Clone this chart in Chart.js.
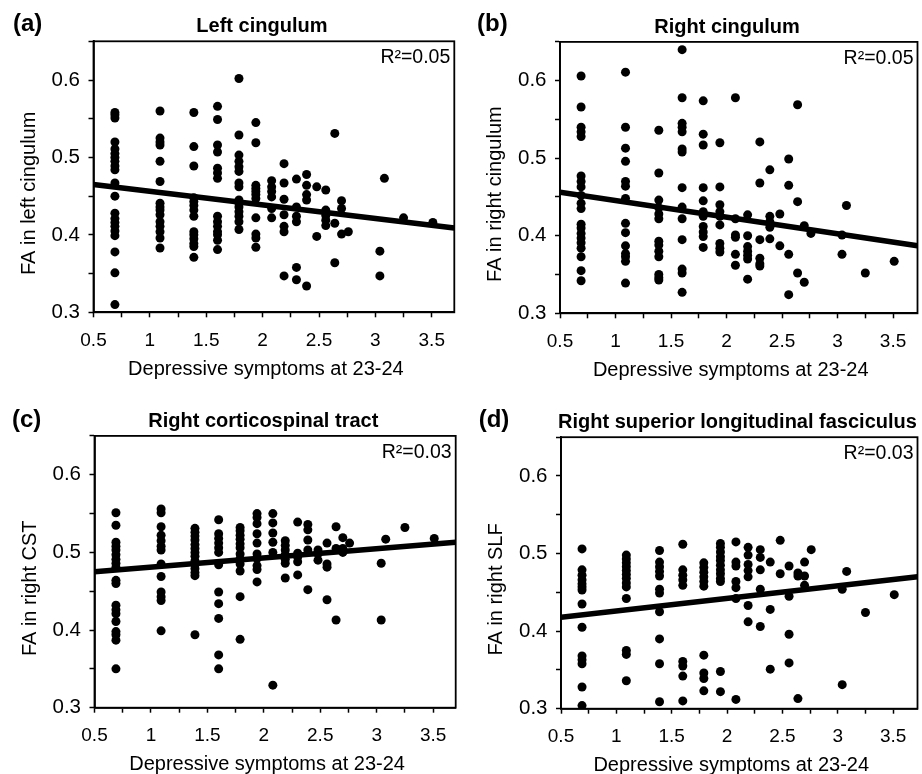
<!DOCTYPE html>
<html>
<head>
<meta charset="utf-8">
<script src="https://cdn.jsdelivr.net/npm/chart.js@4.4.1/dist/chart.umd.min.js"></script>
<style>
html, body { margin: 0; padding: 0; background: #fff; }
#wrap { position: relative; width: 922px; height: 774px; overflow: hidden; background: #fff; }
#wrap canvas { position: absolute; left: 0; top: 0; }
</style>
</head>
<body>
<div id="wrap">
  <canvas id="c0" width="922" height="774"></canvas>
  <canvas id="c1" width="922" height="774"></canvas>
  <canvas id="c2" width="922" height="774"></canvas>
  <canvas id="c3" width="922" height="774"></canvas>
</div>
<script>
// ---- data ----
const symptomLevels = [0.69, 1.09, 1.39, 1.60, 1.79, 1.94, 2.08, 2.19, 2.30, 2.39, 2.48, 2.56, 2.64, 2.70, 2.76, 3.04, 3.08, 3.25, 3.51];

const leftCingulumFA = [
  [0.558, 0.555, 0.551, 0.520, 0.511, 0.505, 0.500, 0.495, 0.489, 0.484, 0.467, 0.450, 0.428, 0.421, 0.416, 0.411, 0.405, 0.399, 0.378, 0.351, 0.310],
  [0.560, 0.525, 0.520, 0.516, 0.495, 0.469, 0.441, 0.436, 0.432, 0.426, 0.417, 0.411, 0.404, 0.396, 0.383],
  [0.558, 0.514, 0.489, 0.448, 0.443, 0.438, 0.432, 0.424, 0.404, 0.400, 0.395, 0.389, 0.385, 0.371],
  [0.566, 0.549, 0.516, 0.507, 0.486, 0.480, 0.473, 0.424, 0.417, 0.411, 0.404, 0.400, 0.393, 0.381],
  [0.602, 0.529, 0.503, 0.495, 0.488, 0.482, 0.467, 0.462, 0.445, 0.441, 0.436, 0.430, 0.424, 0.417, 0.407],
  [0.545, 0.519, 0.464, 0.460, 0.456, 0.452, 0.447, 0.422, 0.401, 0.396, 0.384],
  [0.470, 0.462, 0.456, 0.449, 0.434, 0.422],
  [0.492, 0.467, 0.446, 0.426, 0.411, 0.404, 0.347],
  [0.472, 0.436, 0.424, 0.417, 0.358, 0.342],
  [0.478, 0.464, 0.452, 0.445, 0.334],
  [0.462, 0.398],
  [0.458, 0.432, 0.425, 0.419, 0.412],
  [0.531, 0.415, 0.364],
  [0.444, 0.434, 0.401],
  [0.404],
  [0.379, 0.347],
  [0.473],
  [0.422],
  [0.416]
];

const rightCingulumFA = [
  [0.606, 0.566, 0.540, 0.534, 0.528, 0.477, 0.470, 0.463, 0.452, 0.442, 0.435, 0.415, 0.410, 0.403, 0.397, 0.391, 0.384, 0.373, 0.355, 0.342],
  [0.611, 0.540, 0.513, 0.496, 0.470, 0.464, 0.448, 0.416, 0.404, 0.387, 0.377, 0.373, 0.367, 0.339],
  [0.536, 0.481, 0.446, 0.436, 0.428, 0.422, 0.393, 0.388, 0.380, 0.373, 0.350, 0.346, 0.343],
  [0.640, 0.578, 0.545, 0.540, 0.534, 0.512, 0.508, 0.462, 0.437, 0.422, 0.395, 0.357, 0.352, 0.327],
  [0.574, 0.531, 0.517, 0.462, 0.445, 0.431, 0.425, 0.412, 0.405, 0.399, 0.385],
  [0.520, 0.463, 0.440, 0.431, 0.425, 0.414, 0.390, 0.384, 0.379],
  [0.578, 0.422, 0.401, 0.398, 0.376, 0.362],
  [0.427, 0.400, 0.386, 0.380, 0.375, 0.370, 0.344],
  [0.521, 0.468, 0.395, 0.371, 0.364, 0.361],
  [0.485, 0.425, 0.418, 0.411, 0.396],
  [0.428, 0.387],
  [0.499, 0.465, 0.376, 0.324],
  [0.569, 0.444, 0.352],
  [0.413, 0.340],
  [0.403],
  [0.401, 0.376],
  [0.439],
  [0.352],
  [0.367]
];

const rightCstFA = [
  [0.551, 0.535, 0.513, 0.508, 0.503, 0.497, 0.491, 0.486, 0.481, 0.464, 0.460, 0.432, 0.426, 0.421, 0.411, 0.398, 0.394, 0.387, 0.350],
  [0.556, 0.551, 0.533, 0.522, 0.515, 0.508, 0.503, 0.485, 0.469, 0.449, 0.443, 0.438, 0.399],
  [0.531, 0.526, 0.521, 0.516, 0.510, 0.505, 0.500, 0.495, 0.489, 0.484, 0.479, 0.474, 0.470, 0.394],
  [0.542, 0.524, 0.518, 0.512, 0.506, 0.500, 0.484, 0.449, 0.434, 0.415, 0.368, 0.350],
  [0.532, 0.528, 0.522, 0.517, 0.511, 0.506, 0.498, 0.492, 0.485, 0.476, 0.443, 0.388],
  [0.550, 0.545, 0.537, 0.524, 0.512, 0.498, 0.492, 0.483, 0.478, 0.462],
  [0.550, 0.538, 0.525, 0.513, 0.500, 0.329],
  [0.515, 0.509, 0.503, 0.497, 0.491, 0.486, 0.467],
  [0.539, 0.499, 0.494, 0.488, 0.471],
  [0.536, 0.529, 0.516, 0.503, 0.452],
  [0.503, 0.498, 0.490],
  [0.512, 0.485, 0.481, 0.439],
  [0.533, 0.505, 0.413],
  [0.519, 0.505, 0.500],
  [0.512],
  [0.486, 0.413],
  [0.517],
  [0.532],
  [0.518]
];

const rightSlfFA = [
  [0.506, 0.479, 0.472, 0.466, 0.461, 0.457, 0.453, 0.435, 0.405, 0.368, 0.363, 0.358, 0.328, 0.304],
  [0.498, 0.493, 0.488, 0.483, 0.478, 0.473, 0.468, 0.462, 0.457, 0.442, 0.375, 0.370, 0.336],
  [0.504, 0.489, 0.483, 0.477, 0.471, 0.454, 0.449, 0.425, 0.390, 0.358, 0.309],
  [0.512, 0.479, 0.472, 0.466, 0.459, 0.361, 0.355, 0.342, 0.310],
  [0.488, 0.482, 0.476, 0.470, 0.464, 0.458, 0.369, 0.346, 0.339, 0.323],
  [0.513, 0.508, 0.502, 0.496, 0.491, 0.485, 0.479, 0.474, 0.468, 0.464, 0.348, 0.322],
  [0.515, 0.489, 0.484, 0.464, 0.456, 0.442, 0.312],
  [0.508, 0.498, 0.486, 0.478, 0.470, 0.433, 0.412],
  [0.505, 0.495, 0.479, 0.454, 0.406],
  [0.489, 0.428, 0.351],
  [0.517, 0.474],
  [0.484, 0.445, 0.396, 0.359],
  [0.475, 0.471, 0.313],
  [0.489, 0.471, 0.459],
  [0.505],
  [0.454, 0.331],
  [0.477],
  [0.424],
  [0.447]
];

// regression line: FA at the left edge (x = 0.5) and at the right edge of the axis
const fitLineLeft  = [0.465, 0.456, 0.475, 0.418];
const fitLineRight = [0.409, 0.387, 0.513, 0.470];

const panelLabels = ['(a)', '(b)', '(c)', '(d)'];
const panelTitles = ['Left cingulum', 'Right cingulum', 'Right corticospinal tract', 'Right superior longitudinal fasciculus'];
const yAxisTitles = ['FA in left cingulum', 'FA in right cingulum', 'FA in right CST', 'FA in right SLF'];
const xAxisTitle = 'Depressive symptoms at 23-24';
const r2Labels = ['R\u00B2=0.05', 'R\u00B2=0.05', 'R\u00B2=0.03', 'R\u00B2=0.03'];

const xTickValues = [0.5, 1, 1.5, 2, 2.5, 3, 3.5];
const xTickLabels = ['0.5', '1', '1.5', '2', '2.5', '3', '3.5'];
const yTickValues = [0.3, 0.4, 0.5, 0.6];
const yTickLabels = ['0.3', '0.4', '0.5', '0.6'];

const faSeries = [leftCingulumFA, rightCingulumFA, rightCstFA, rightSlfFA];

// ---- layout (page pixel positions of each plot area) ----
const panelBoxes = [
  { L: 93.5, R: 454.3, T: 41.3,  B: 312.3, xMax: 3.70, titleDx: -12,  labelX: 13,    labelY: 31 },
  { L: 560,  R: 921,   T: 41.9,  B: 313.3, xMax: 3.72, titleDx: -11.7, labelX: 477,  labelY: 31 },
  { L: 94.5, R: 455.7, T: 435.9, B: 707.7, xMax: 3.70, titleDx: -11.8, labelX: 12,   labelY: 427 },
  { L: 561,  R: 921.5, T: 437.2, B: 708.7, xMax: 3.72, titleDx: -1.8,  labelX: 478.7, labelY: 427 }
];

const FONT = "'Liberation Sans', Arial, Helvetica, sans-serif";
Chart.defaults.font.family = FONT;
Chart.defaults.color = '#000';

function lookupLabel(value, vals, labels) {
  for (let k = 0; k < vals.length; k++) {
    if (Math.abs(value - vals[k]) < 1e-6) return labels[k];
  }
  return '';
}

const panelDecor = {
  id: 'panelDecor',
  afterDraw(chart, args, opts) {
    const i = opts.index;
    const box = panelBoxes[i];
    const a = chart.chartArea;
    const ctx = chart.ctx;
    const cx = (a.left + a.right) / 2;
    const cy = (a.top + a.bottom) / 2;
    ctx.save();
    ctx.strokeStyle = '#000';
    ctx.lineWidth = 1.8;
    ctx.strokeRect(a.left, a.top, a.right - a.left, a.bottom - a.top);
    ctx.fillStyle = '#000';
    ctx.textBaseline = 'alphabetic';
    ctx.font = 'bold 24px ' + FONT;
    ctx.textAlign = 'left';
    ctx.fillText(panelLabels[i], box.labelX, box.labelY);
    ctx.font = 'bold 20px ' + FONT;
    ctx.textAlign = 'center';
    ctx.fillText(panelTitles[i], cx + box.titleDx, a.top - 9);
    ctx.font = '19.5px ' + FONT;
    ctx.textAlign = 'right';
    ctx.fillText(r2Labels[i], a.right - 4, a.top + 22);
    ctx.font = '20px ' + FONT;
    ctx.textAlign = 'center';
    ctx.fillText(xAxisTitle, cx - 8, a.bottom + 62.5);
    ctx.translate(a.left - 58.7, cy + 16.5);
    ctx.rotate(-Math.PI / 2);
    ctx.fillText(yAxisTitles[i], 0, 0);
    ctx.restore();
  }
};

const Y_W = 60, X_H = 40;

function makePanel(i) {
  const box = panelBoxes[i];
  const pts = [];
  faSeries[i].forEach((col, j) => col.forEach(v => pts.push({ x: symptomLevels[j], y: v })));
  const fit = [{ x: 0.5, y: fitLineLeft[i] }, { x: box.xMax, y: fitLineRight[i] }];
  new Chart(document.getElementById('c' + i), {
    type: 'scatter',
    data: {
      datasets: [
        { data: fit, showLine: true, borderColor: '#000', borderWidth: 5.5, pointRadius: 0, pointHoverRadius: 0, fill: false },
        { data: pts, pointRadius: 4.5, pointHoverRadius: 4.5, pointBackgroundColor: '#000', pointBorderWidth: 0, borderColor: '#000' }
      ]
    },
    options: {
      responsive: false,
      animation: false,
      events: [],
      layout: { padding: { left: box.L - Y_W, right: 922 - box.R, top: box.T, bottom: 774 - box.B - X_H } },
      plugins: { legend: { display: false }, tooltip: { enabled: false }, title: { display: false }, panelDecor: { index: i } },
      scales: {
        x: {
          type: 'linear', position: 'bottom', min: 0.5, max: box.xMax,
          afterFit(s) { s.height = X_H; },
          ticks: { stepSize: 0.25, autoSkip: false, includeBounds: false, maxRotation: 0, minRotation: 0, padding: 12,
                   color: '#000', font: { size: 19 }, callback: v => lookupLabel(v, xTickValues, xTickLabels) },
          grid: { display: true, drawOnChartArea: false, drawTicks: true, tickLength: 5, tickWidth: 1.5, tickColor: '#000' },
          border: { display: true, color: '#000', width: 1.8 }
        },
        y: {
          type: 'linear', position: 'left', min: 0.3, max: 0.65,
          afterFit(s) { s.width = Y_W; },
          ticks: { stepSize: 0.05, autoSkip: false, includeBounds: false, padding: 8.5,
                   color: '#000', font: { size: 20.5 }, callback: v => lookupLabel(v, yTickValues, yTickLabels) },
          grid: { display: true, drawOnChartArea: false, drawTicks: true, tickLength: 5, tickWidth: 1.5, tickColor: '#000' },
          border: { display: true, color: '#000', width: 1.8 }
        }
      }
    },
    plugins: [panelDecor]
  });
}

for (let i = 0; i < 4; i++) makePanel(i);
</script>
</body>
</html>
